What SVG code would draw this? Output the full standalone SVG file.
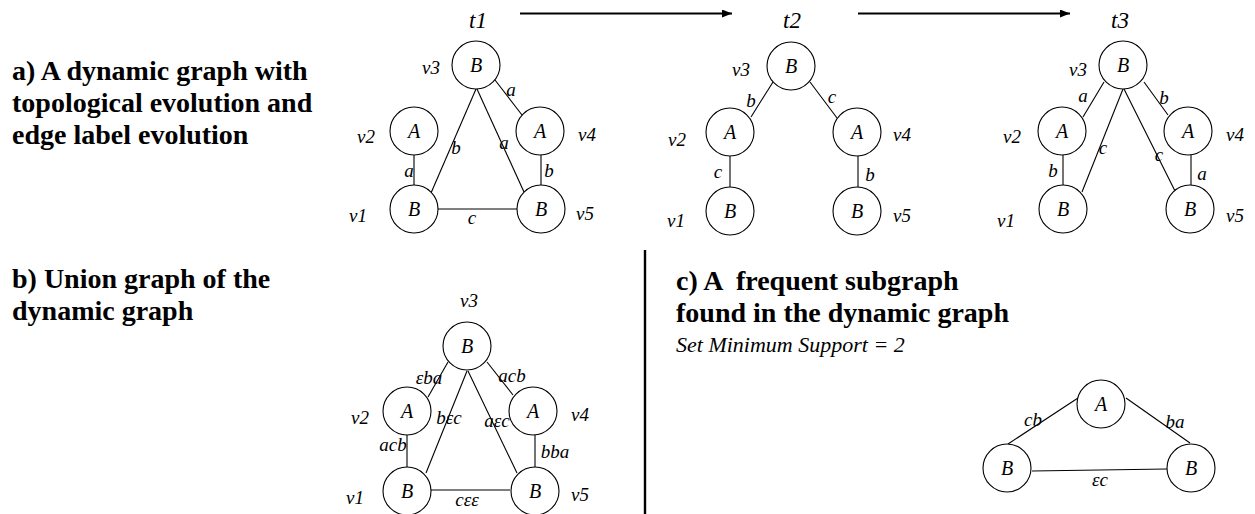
<svg xmlns="http://www.w3.org/2000/svg" width="1255" height="514" viewBox="0 0 1255 514">
<style>
.bg{fill:#fff}
.nd{fill:#fff;stroke:#000;stroke-width:1.1}
.ed{stroke:#000;stroke-width:1.1;fill:none}
.arr{stroke:#000;stroke-width:1.8;fill:none}
.div{stroke:#000;stroke-width:2.4}
.nl{font-family:'Liberation Serif','Times New Roman',serif;font-style:italic;font-size:20px;text-anchor:middle;fill:#000}
.vl{font-family:'Liberation Serif','Times New Roman',serif;font-style:italic;font-size:19px;text-anchor:middle;fill:#000}
.el{font-family:'Liberation Serif','Times New Roman',serif;font-style:italic;font-size:19px;text-anchor:middle;fill:#000}
.tl{font-family:'Liberation Serif','Times New Roman',serif;font-style:italic;font-size:23px;text-anchor:middle;fill:#000}
.ttl{font-family:'Liberation Serif','Times New Roman',serif;font-weight:bold;font-size:28px;fill:#000;white-space:pre}
.sub{font-family:'Liberation Serif','Times New Roman',serif;font-style:italic;font-size:22px;fill:#000}
</style>
<defs>
<marker id="ah" viewBox="0 0 10 8" refX="10" refY="4" markerWidth="10" markerHeight="8" markerUnits="userSpaceOnUse" orient="auto">
<path d="M0,0 L10,4 L0,8 z" fill="#000"/>
</marker>
</defs>
<rect class="bg" x="0" y="0" width="1255" height="514"/>

<g id="titles">
<text class="ttl" x="12" y="80">a) A dynamic graph with</text>
<text class="ttl" x="12" y="112">topological evolution and</text>
<text class="ttl" x="12" y="144">edge label evolution</text>
<text class="ttl" x="12" y="288">b) Union graph of the</text>
<text class="ttl" x="12" y="320">dynamic graph</text>
<text class="ttl" x="676" y="290" xml:space="preserve">c) A  frequent subgraph</text>
<text class="ttl" x="676" y="322">found in the dynamic graph</text>
<text class="sub" x="676" y="352">Set Minimum Support = 2</text>
<text class="tl" x="478" y="28">t1</text>
<text class="tl" x="792" y="28">t2</text>
<text class="tl" x="1120" y="28">t3</text>
</g>

<g id="connectors">
<line class="arr" x1="520" y1="13.5" x2="732" y2="13.5" marker-end="url(#ah)"/>
<line class="arr" x1="858" y1="13.5" x2="1070" y2="13.5" marker-end="url(#ah)"/>
<line class="div" x1="645" y1="250" x2="645" y2="514"/>
<!-- t1 -->
<line class="ed" x1="476" y1="89" x2="431" y2="193"/>
<line class="ed" x1="477" y1="89" x2="524" y2="192"/>
<line class="ed" x1="495" y1="80" x2="522" y2="115"/>
<line class="ed" x1="414" y1="155" x2="414" y2="185"/>
<line class="ed" x1="541" y1="155" x2="541" y2="185"/>
<line class="ed" x1="438" y1="209" x2="517" y2="209"/>
<!-- t2 -->
<line class="ed" x1="773" y1="82" x2="751" y2="117"/>
<line class="ed" x1="810" y1="82" x2="837" y2="118"/>
<line class="ed" x1="730" y1="156" x2="730" y2="187"/>
<line class="ed" x1="858" y1="156" x2="858" y2="187"/>
<!-- t3 -->
<line class="ed" x1="1104" y1="82" x2="1083" y2="117"/>
<line class="ed" x1="1144" y1="82" x2="1168" y2="115"/>
<line class="ed" x1="1123" y1="89" x2="1082" y2="192"/>
<line class="ed" x1="1124" y1="89" x2="1175" y2="191"/>
<line class="ed" x1="1063" y1="155" x2="1063" y2="185"/>
<line class="ed" x1="1191" y1="155" x2="1191" y2="185"/>
<!-- union -->
<line class="ed" x1="448" y1="362" x2="428" y2="397"/>
<line class="ed" x1="487" y1="362" x2="513" y2="395"/>
<line class="ed" x1="467" y1="371" x2="426" y2="473"/>
<line class="ed" x1="468" y1="371" x2="517" y2="473"/>
<line class="ed" x1="407" y1="435" x2="407" y2="467"/>
<line class="ed" x1="535" y1="435" x2="535" y2="467"/>
<line class="ed" x1="431" y1="490" x2="510" y2="490"/>
<!-- subgraph -->
<line class="ed" x1="1078" y1="398" x2="1008" y2="444"/>
<line class="ed" x1="1126" y1="398" x2="1190" y2="443"/>
<line class="ed" x1="1032" y1="471" x2="1167" y2="469"/>
</g>

<g id="edge-labels">
<text class="el" x="456" y="154">b</text>
<text class="el" x="504" y="149">a</text>
<text class="el" x="511" y="96">a</text>
<text class="el" x="409" y="177">a</text>
<text class="el" x="549" y="177">b</text>
<text class="el" x="472" y="224">c</text>

<text class="el" x="751" y="107">b</text>
<text class="el" x="832" y="103">c</text>
<text class="el" x="718" y="178">c</text>
<text class="el" x="870" y="181">b</text>

<text class="el" x="1083" y="102">a</text>
<text class="el" x="1164" y="104">b</text>
<text class="el" x="1103" y="154">c</text>
<text class="el" x="1159" y="161">c</text>
<text class="el" x="1053" y="177">b</text>
<text class="el" x="1202" y="180">a</text>

<text class="el" x="429" y="384">εba</text>
<text class="el" x="512" y="382">acb</text>
<text class="el" x="449" y="424">bεc</text>
<text class="el" x="497" y="427">aεc</text>
<text class="el" x="393" y="451">acb</text>
<text class="el" x="555" y="458">bba</text>
<text class="el" x="467" y="506">cεε</text>

<text class="el" x="1033" y="426">cb</text>
<text class="el" x="1175" y="428">ba</text>
<text class="el" x="1100" y="486">εc</text>
</g>

<!-- t1 nodes -->
<g id="t1-v3"><circle class="nd" cx="476" cy="65" r="24"/><text class="nl" x="476" y="72">B</text><text class="vl" x="431" y="74">v3</text></g>
<g id="t1-v2"><circle class="nd" cx="414" cy="131" r="24"/><text class="nl" x="414" y="138">A</text><text class="vl" x="366" y="143">v2</text></g>
<g id="t1-v4"><circle class="nd" cx="540" cy="131" r="24"/><text class="nl" x="540" y="138">A</text><text class="vl" x="587" y="141">v4</text></g>
<g id="t1-v1"><circle class="nd" cx="414" cy="209" r="24"/><text class="nl" x="414" y="216">B</text><text class="vl" x="358" y="222">v1</text></g>
<g id="t1-v5"><circle class="nd" cx="541" cy="209" r="24"/><text class="nl" x="541" y="216">B</text><text class="vl" x="585" y="220">v5</text></g>

<!-- t2 nodes -->
<g id="t2-v3"><circle class="nd" cx="791" cy="66" r="24"/><text class="nl" x="791" y="73">B</text><text class="vl" x="741" y="76">v3</text></g>
<g id="t2-v2"><circle class="nd" cx="730" cy="132" r="24"/><text class="nl" x="730" y="139">A</text><text class="vl" x="677" y="146">v2</text></g>
<g id="t2-v4"><circle class="nd" cx="857" cy="132" r="24"/><text class="nl" x="857" y="139">A</text><text class="vl" x="902" y="141">v4</text></g>
<g id="t2-v1"><circle class="nd" cx="730" cy="211" r="24"/><text class="nl" x="730" y="218">B</text><text class="vl" x="676" y="227">v1</text></g>
<g id="t2-v5"><circle class="nd" cx="857" cy="211" r="24"/><text class="nl" x="857" y="218">B</text><text class="vl" x="902" y="222">v5</text></g>

<!-- t3 nodes -->
<g id="t3-v3"><circle class="nd" cx="1123" cy="65" r="24"/><text class="nl" x="1123" y="72">B</text><text class="vl" x="1078" y="76">v3</text></g>
<g id="t3-v2"><circle class="nd" cx="1062" cy="131" r="24"/><text class="nl" x="1062" y="138">A</text><text class="vl" x="1012" y="143">v2</text></g>
<g id="t3-v4"><circle class="nd" cx="1188" cy="131" r="24"/><text class="nl" x="1188" y="138">A</text><text class="vl" x="1235" y="141">v4</text></g>
<g id="t3-v1"><circle class="nd" cx="1063" cy="209" r="24"/><text class="nl" x="1063" y="216">B</text><text class="vl" x="1006" y="227">v1</text></g>
<g id="t3-v5"><circle class="nd" cx="1190" cy="209" r="24"/><text class="nl" x="1190" y="216">B</text><text class="vl" x="1235" y="222">v5</text></g>

<!-- union nodes -->
<g id="u-v3"><circle class="nd" cx="467" cy="346" r="24"/><text class="nl" x="467" y="353">B</text><text class="vl" x="469" y="307">v3</text></g>
<g id="u-v2"><circle class="nd" cx="407" cy="411" r="24"/><text class="nl" x="407" y="418">A</text><text class="vl" x="360" y="424">v2</text></g>
<g id="u-v4"><circle class="nd" cx="533" cy="411" r="24"/><text class="nl" x="533" y="418">A</text><text class="vl" x="580" y="421">v4</text></g>
<g id="u-v1"><circle class="nd" cx="407" cy="491" r="24"/><text class="nl" x="407" y="498">B</text><text class="vl" x="355" y="504">v1</text></g>
<g id="u-v5"><circle class="nd" cx="535" cy="491" r="24"/><text class="nl" x="535" y="498">B</text><text class="vl" x="580" y="501">v5</text></g>

<!-- subgraph nodes -->
<g id="s-a"><circle class="nd" cx="1101" cy="404" r="24"/><text class="nl" x="1101" y="411">A</text></g>
<g id="s-b1"><circle class="nd" cx="1007" cy="468" r="24"/><text class="nl" x="1007" y="475">B</text></g>
<g id="s-b2"><circle class="nd" cx="1191" cy="468" r="24"/><text class="nl" x="1191" y="475">B</text></g>
</svg>
